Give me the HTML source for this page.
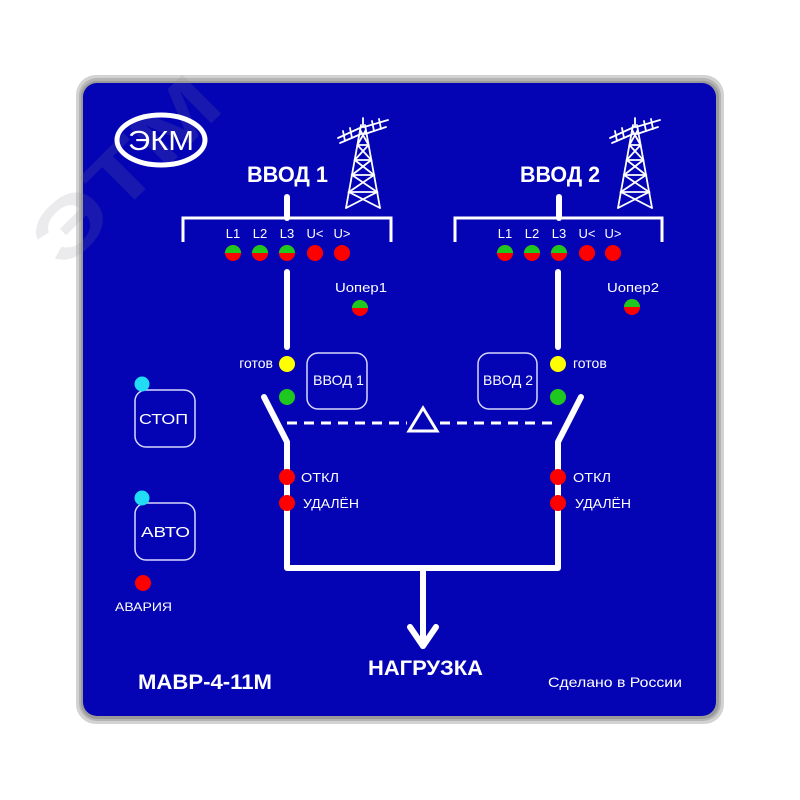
<!DOCTYPE html>
<html>
<head>
<meta charset="utf-8">
<style>
  html,body{margin:0;padding:0;background:#fff;}
  svg{display:block;}
  text{font-family:"Liberation Sans",Arial,sans-serif;fill:#fff;}
</style>
</head>
<body>
<svg width="800" height="800" viewBox="0 0 800 800" xmlns="http://www.w3.org/2000/svg">
  <rect x="0" y="0" width="800" height="800" fill="#ffffff"/>

  <!-- panel frame -->
  <rect x="76" y="75" width="648" height="649" rx="20" fill="#d2d2d2"/>
  <rect x="79" y="78" width="642" height="643" rx="18" fill="#b4b4b4"/>
  <rect x="81" y="81" width="638" height="638" rx="16" fill="#9a9a9a"/>
  <rect x="83" y="83" width="633" height="633" rx="14" fill="#0404b4"/>

  <!-- watermark -->
  <g transform="translate(125,170) rotate(-45)" opacity="0.16">
    <text x="0" y="28" font-size="80" font-weight="bold" text-anchor="middle" style="fill:#8a8a9a" textLength="230" lengthAdjust="spacingAndGlyphs">ЭТМ</text>
  </g>

  <!-- logo -->
  <ellipse cx="161" cy="140" rx="44" ry="25" fill="none" stroke="#fff" stroke-width="5"/>
  <text x="128" y="150" font-size="28" textLength="66" lengthAdjust="spacingAndGlyphs">ЭКМ</text>

  <!-- headers -->
  <text x="247" y="182" font-size="22" font-weight="bold" textLength="81" lengthAdjust="spacingAndGlyphs">ВВОД 1</text>
  <text x="520" y="182" font-size="22" font-weight="bold" textLength="80" lengthAdjust="spacingAndGlyphs">ВВОД 2</text>

  <!-- towers -->
  <g id="tower" fill="none" stroke="#fff" stroke-width="1.8" stroke-linecap="round">
    <line x1="363" y1="118" x2="363" y2="127"/>
    <line x1="361" y1="125" x2="346" y2="208"/>
    <line x1="365" y1="125" x2="380" y2="208"/>
    <!-- arms -->
    <line x1="338" y1="138" x2="362" y2="127"/>
    <line x1="340" y1="143" x2="361" y2="134"/>
    <line x1="364" y1="127" x2="388" y2="120"/>
    <line x1="365" y1="134" x2="386" y2="127"/>
    <line x1="343" y1="131" x2="345" y2="141"/>
    <line x1="350" y1="128" x2="352" y2="138"/>
    <line x1="372" y1="121" x2="374" y2="131"/>
    <line x1="379" y1="119" x2="381" y2="129"/>
    <!-- lattice -->
    <polyline points="360.1,130 368.6,145 354.7,160 374,175 348.9,192 380,208"/>
    <polyline points="365.9,130 357.4,145 371.3,160 352,175 377.1,192 346,208"/>
    <line x1="357.4" y1="145" x2="368.6" y2="145"/>
    <line x1="354.7" y1="160" x2="371.3" y2="160"/>
    <line x1="352" y1="175" x2="374" y2="175"/>
    <line x1="348.9" y1="192" x2="377.1" y2="192"/>
  </g>
  <use href="#tower" transform="translate(272,0)"/>

  <!-- stubs and brackets -->
  <g stroke="#fff" fill="none">
    <line x1="287" y1="197" x2="287" y2="218" stroke-width="6" stroke-linecap="round"/>
    <line x1="559" y1="197" x2="559" y2="218" stroke-width="6" stroke-linecap="round"/>
    <polyline points="183,242 183,218 391,218 391,242" stroke-width="3"/>
    <polyline points="455,242 455,218 662,218 662,242" stroke-width="3"/>
  </g>

  <!-- L labels -->
  <g font-size="13" text-anchor="middle">
    <text x="233" y="238">L1</text><text x="260" y="238">L2</text><text x="287" y="238">L3</text>
    <text x="315" y="238">U&lt;</text><text x="342" y="238">U&gt;</text>
    <text x="505" y="238">L1</text><text x="532" y="238">L2</text><text x="559" y="238">L3</text>
    <text x="587" y="238">U&lt;</text><text x="613" y="238">U&gt;</text>
  </g>

  <defs>
    <clipPath id="tophalf"><rect x="-10" y="-10" width="20" height="10"/></clipPath>
    <g id="bi">
      <circle r="8" fill="#ff0000"/>
      <circle r="8" fill="#1fc81f" clip-path="url(#tophalf)"/>
    </g>
  </defs>

  <!-- LED rows -->
  <use href="#bi" x="233" y="253"/><use href="#bi" x="260" y="253"/><use href="#bi" x="287" y="253"/>
  <circle cx="315" cy="253" r="8" fill="#ff0000"/><circle cx="342" cy="253" r="8" fill="#ff0000"/>
  <use href="#bi" x="505" y="253"/><use href="#bi" x="532" y="253"/><use href="#bi" x="559" y="253"/>
  <circle cx="587" cy="253" r="8" fill="#ff0000"/><circle cx="613" cy="253" r="8" fill="#ff0000"/>

  <!-- Uoper -->
  <text x="335" y="292" font-size="13" textLength="52" lengthAdjust="spacingAndGlyphs">Uопер1</text>
  <use href="#bi" x="360" y="308"/>
  <text x="607" y="292" font-size="13" textLength="52" lengthAdjust="spacingAndGlyphs">Uопер2</text>
  <use href="#bi" x="632" y="307"/>

  <!-- main lines -->
  <g stroke="#fff" fill="none" stroke-width="6" stroke-linecap="round" stroke-linejoin="round">
    <line x1="287" y1="272" x2="287" y2="347"/>
    <line x1="558" y1="272" x2="558" y2="347"/>
    <polyline points="264,397 287,442 287,568 558,568 558,442 581,397"/>
    <line x1="423" y1="568" x2="423" y2="646"/>
    <polyline points="410,627 423,646 436,627" stroke-width="6"/>
  </g>

  <!-- dashed interlock -->
  <line x1="287" y1="423" x2="407" y2="423" stroke="#fff" stroke-width="3" stroke-dasharray="10,7"/>
  <line x1="440" y1="423" x2="558" y2="423" stroke="#fff" stroke-width="3" stroke-dasharray="10,7"/>
  <polygon points="423,408 409,431 437,431" fill="none" stroke="#fff" stroke-width="3" stroke-linejoin="miter"/>

  <!-- ready LEDs -->
  <circle cx="287" cy="364" r="8" fill="#ffff00"/>
  <circle cx="287" cy="397" r="8" fill="#1fc81f"/>
  <circle cx="558" cy="364" r="8" fill="#ffff00"/>
  <circle cx="558" cy="397" r="8" fill="#1fc81f"/>
  <text x="273" y="368" font-size="14" text-anchor="end">готов</text>
  <text x="573" y="368" font-size="14">готов</text>

  <!-- ВВОД buttons -->
  <rect x="307" y="353" width="60" height="56" rx="11" fill="none" stroke="#d8d8ff" stroke-width="1.5"/>
  <text x="313" y="385" font-size="14" textLength="51" lengthAdjust="spacingAndGlyphs">ВВОД 1</text>
  <rect x="478" y="353" width="59" height="56" rx="11" fill="none" stroke="#d8d8ff" stroke-width="1.5"/>
  <text x="483" y="385" font-size="14" textLength="50" lengthAdjust="spacingAndGlyphs">ВВОД 2</text>

  <!-- ОТКЛ / УДАЛЁН -->
  <circle cx="287" cy="477" r="8" fill="#ff0000"/>
  <circle cx="287" cy="503" r="8" fill="#ff0000"/>
  <circle cx="558" cy="477" r="8" fill="#ff0000"/>
  <circle cx="558" cy="503" r="8" fill="#ff0000"/>
  <text x="301" y="482" font-size="13" textLength="38" lengthAdjust="spacingAndGlyphs">ОТКЛ</text>
  <text x="303" y="508" font-size="13" textLength="56" lengthAdjust="spacingAndGlyphs">УДАЛЁН</text>
  <text x="573" y="482" font-size="13" textLength="38" lengthAdjust="spacingAndGlyphs">ОТКЛ</text>
  <text x="575" y="508" font-size="13" textLength="56" lengthAdjust="spacingAndGlyphs">УДАЛЁН</text>

  <!-- СТОП / АВТО -->
  <rect x="135" y="390" width="60" height="57" rx="11" fill="none" stroke="#d8d8ff" stroke-width="1.5"/>
  <circle cx="142" cy="384" r="7.5" fill="#20dcf5"/>
  <text x="139" y="424" font-size="15" textLength="49" lengthAdjust="spacingAndGlyphs">СТОП</text>
  <rect x="135" y="503" width="60" height="57" rx="11" fill="none" stroke="#d8d8ff" stroke-width="1.5"/>
  <circle cx="142" cy="498" r="7.5" fill="#20dcf5"/>
  <text x="141" y="537" font-size="15" textLength="49" lengthAdjust="spacingAndGlyphs">АВТО</text>

  <!-- АВАРИЯ -->
  <circle cx="143" cy="583" r="8" fill="#ff0000"/>
  <text x="115" y="611" font-size="12" textLength="57" lengthAdjust="spacingAndGlyphs">АВАРИЯ</text>

  <!-- bottom texts -->
  <text x="368" y="675" font-size="21" font-weight="bold" textLength="115" lengthAdjust="spacingAndGlyphs">НАГРУЗКА</text>
  <text x="138" y="689" font-size="21" font-weight="bold" textLength="134" lengthAdjust="spacingAndGlyphs">МАВР-4-11М</text>
  <text x="548" y="687" font-size="14" textLength="134" lengthAdjust="spacingAndGlyphs">Сделано в России</text>
</svg>
</body>
</html>
